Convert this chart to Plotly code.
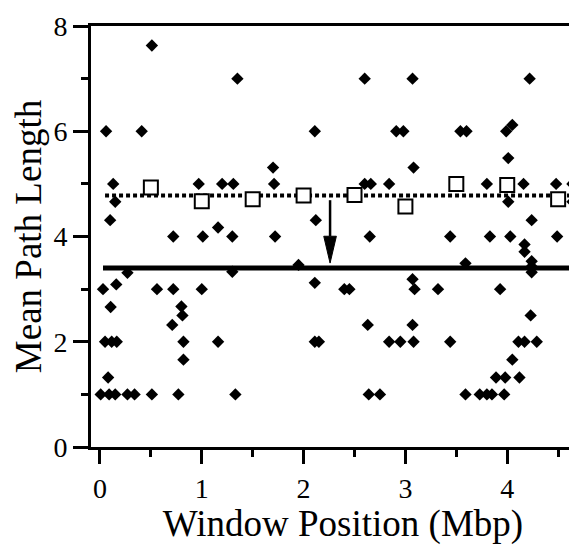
import plotly.graph_objects as go

# ---- data ----
diamond_x = [
    0.51,
    1.35, 2.60, 3.07, 4.22,
    4.05,
    0.06, 0.41, 2.11, 2.91, 2.98, 3.54, 3.60, 3.99,
    4.01,
    1.70, 3.08,
    0.13, 0.97, 1.20, 1.31, 1.71, 2.60, 2.66, 2.84, 3.80, 4.16, 4.48, 4.64,
    0.15, 4.01, 4.64,
    0.10, 2.12, 4.24,
    1.16,
    0.72, 1.01, 1.30, 1.72, 2.65, 3.44, 3.83, 4.03, 4.49,
    4.17, 4.17,
    4.24, 4.24, 4.24,
    1.95, 3.59,
    0.27, 1.30,
    2.11, 0.16, 3.07,
    0.03, 0.56, 0.72, 1.00, 2.40, 2.45, 3.09, 3.32, 3.93,
    0.105, 0.80,
    0.81, 4.23,
    0.71, 2.63, 3.07,
    0.05, 0.115, 0.165, 0.82, 1.16, 2.11, 2.15, 2.84, 2.95, 3.08, 3.44, 4.11, 4.17, 4.29,
    0.82, 4.05,
    0.08, 3.89, 3.98, 4.12,
    0.007, 0.09, 0.15, 0.27, 0.34, 0.51, 0.77, 1.33, 2.64, 2.75, 3.59, 3.73, 3.80, 3.85, 3.97,
]
diamond_y = [
    7.63,
    7.0, 7.0, 7.0, 7.0,
    6.12,
    6.0, 6.0, 6.0, 6.0, 6.0, 6.0, 6.0, 6.0,
    5.49,
    5.31, 5.31,
    5.0, 5.0, 5.0, 5.0, 5.0, 5.0, 5.0, 5.0, 5.0, 5.0, 5.0, 5.0,
    4.66, 4.66, 4.66,
    4.31, 4.31, 4.31,
    4.17,
    4.0, 4.0, 4.0, 4.0, 4.0, 4.0, 4.0, 4.0, 4.0,
    3.85, 3.71,
    3.53, 3.43, 3.32,
    3.46, 3.49,
    3.31, 3.33,
    3.12, 3.09, 3.19,
    3.0, 3.0, 3.0, 3.0, 3.0, 3.0, 3.0, 3.0, 3.0,
    2.66, 2.67,
    2.50, 2.50,
    2.32, 2.32, 2.32,
    2.0, 2.0, 2.0, 2.0, 2.0, 2.0, 2.0, 2.0, 2.0, 2.0, 2.0, 2.0, 2.0, 2.0,
    1.66, 1.66,
    1.32, 1.32, 1.32, 1.32,
    1.0, 1.0, 1.0, 1.0, 1.0, 1.0, 1.0, 1.0, 1.0, 1.0, 1.0, 1.0, 1.0, 1.0, 1.0,
]

square_x = [0.5, 1.0, 1.5, 2.0, 2.5, 3.0, 3.5, 4.0, 4.5]
square_y = [4.93, 4.67, 4.71, 4.78, 4.79, 4.57, 5.00, 4.98, 4.71]

mean_line_x = [0.05, 4.70]
mean_line_y = [4.78, 4.78]
ref_line_x = [0.03, 4.64]
ref_line_y = [3.40, 3.40]

arrow_x = 2.26
arrow_start = 4.69
arrow_tip = 3.495
arrow_head_len = 0.51
arrow_head_half = 0.062

x_tickvals = [0, 1, 2, 3, 4]
y_tickvals = [0, 2, 4, 6, 8]

FONT = "Liberation Serif"

fig = go.Figure()

fig.add_trace(go.Scatter(x=mean_line_x, y=mean_line_y, mode="lines",
                         line=dict(color="black", width=4, dash="4px,3px"),
                         showlegend=False, hoverinfo="skip"))
fig.add_trace(go.Scatter(x=ref_line_x, y=ref_line_y, mode="lines",
                         line=dict(color="black", width=5),
                         showlegend=False, hoverinfo="skip"))
# arrow shaft
fig.add_trace(go.Scatter(x=[arrow_x, arrow_x], y=[arrow_start, arrow_tip + arrow_head_len],
                         mode="lines", line=dict(color="black", width=2.5),
                         showlegend=False, hoverinfo="skip"))
# arrow head
fig.add_trace(go.Scatter(
    x=[arrow_x - arrow_head_half, arrow_x + arrow_head_half, arrow_x, arrow_x - arrow_head_half],
    y=[arrow_tip + arrow_head_len, arrow_tip + arrow_head_len, arrow_tip, arrow_tip + arrow_head_len],
    mode="lines", fill="toself", fillcolor="black", line=dict(color="black", width=1),
    showlegend=False, hoverinfo="skip"))

fig.add_trace(go.Scatter(x=diamond_x, y=diamond_y, mode="markers",
                         marker=dict(symbol="diamond", size=9.5, color="black",
                                     line=dict(width=0)),
                         showlegend=False))
fig.add_trace(go.Scatter(x=square_x, y=square_y, mode="markers",
                         marker=dict(symbol="square", size=14, color="white",
                                     line=dict(color="black", width=2)),
                         showlegend=False))

# page body has an 8px default margin, so the figure is offset to compensate;
# the plot runs past the right edge of the window, as in the cropped original
fig.update_layout(
    width=587, height=537,
    margin=dict(l=83, r=0, t=18, b=98),
    paper_bgcolor="white", plot_bgcolor="white",
    font=dict(family=FONT, color="black"),
    xaxis=dict(
        range=[-0.088, 4.862], showgrid=False, zeroline=False,
        showline=True, linecolor="black", linewidth=3, mirror=True,
        tickmode="array", tickvals=x_tickvals,
        ticks="outside", ticklen=14, tickwidth=3, tickcolor="black",
        tickfont=dict(family=FONT, size=28, color="black"),
        minor=dict(dtick=0.5, tick0=0, ticks="outside", ticklen=7, tickwidth=3, tickcolor="black", showgrid=False),
        title=dict(text="Window Position (Mbp)", font=dict(family=FONT, size=37, color="black"), standoff=20),
        automargin=False,
    ),
    yaxis=dict(
        range=[0, 8], showgrid=False, zeroline=False,
        showline=True, linecolor="black", linewidth=3,
        tickmode="array", tickvals=y_tickvals,
        ticks="outside", ticklen=15, tickwidth=3, tickcolor="black",
        tickfont=dict(family=FONT, size=28, color="black"),
        minor=dict(dtick=1, tick0=0, ticks="outside", ticklen=7, tickwidth=3, tickcolor="black", showgrid=False),
        title=dict(text="Mean Path Length", font=dict(family=FONT, size=37, color="black"), standoff=3),
        automargin=False,
    ),
)

fig.write_html("out.html")
